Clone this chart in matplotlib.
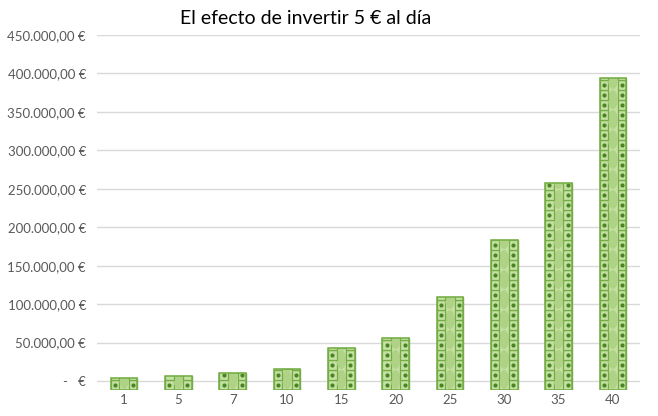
import matplotlib.pyplot as plt
from matplotlib.patches import Rectangle, Ellipse
from matplotlib.ticker import FuncFormatter

# years invested and resulting capital
years = ['1', '5', '7', '10', '15', '20', '25', '30', '35', '40']
capital = [3500, 6100, 10000, 15200, 43300, 56000, 109000, 183000, 258000, 394000]

plt.rcParams['font.family'] = ['Lato', 'DejaVu Sans']

fig = plt.figure(figsize=(6.58, 4.16), dpi=100)
ax = fig.add_axes([0.1474, 0.0637, 0.8252, 0.8522])

y_bottom = -11000
y_top = 450000
ax.set_xlim(-0.5, len(years) - 0.5)
ax.set_ylim(y_bottom, y_top)

light = '#c5e0a3'
edge = '#74ad45'
mid = '#b0d286'
dot = '#4a8424'

bar_w = 0.49
tile_h = 13000

bars = ax.bar(range(len(years)), [v - y_bottom for v in capital], bottom=y_bottom,
              width=bar_w, color=light, edgecolor=edge, linewidth=1.0, zorder=2)

for i, (b, v) in enumerate(zip(bars, capital)):
    left = i - bar_w / 2
    clip = b
    y = y_bottom
    k = 0
    dots_x, dots_y = [], []
    while y < v:
        # side squares of each banknote
        for xs in (left, left + bar_w * 0.68):
            r = Rectangle((xs, y), bar_w * 0.32, tile_h, facecolor=light,
                          edgecolor=edge, linewidth=0.9, zorder=3)
            ax.add_patch(r)
            r.set_clip_path(clip)
            dots_x.append(xs + bar_w * 0.16)
            dots_y.append(y + tile_h / 2)
        if k % 2 == 0:
            e = Ellipse((i, y + tile_h), bar_w * 0.36, tile_h * 1.9,
                        facecolor=mid, edgecolor='none', zorder=3)
            ax.add_patch(e)
            e.set_clip_path(clip)
        y += tile_h
        k += 1
    pts = [(px, py) for px, py in zip(dots_x, dots_y) if py < v]
    if pts:
        sc = ax.scatter([p[0] for p in pts], [p[1] for p in pts], s=9,
                        color=dot, zorder=4, linewidths=0)
        sc.set_clip_path(clip)
    outline = Rectangle((left, y_bottom), bar_w, v - y_bottom, facecolor='none',
                        edgecolor=edge, linewidth=1.1, zorder=5)
    ax.add_patch(outline)


def euro(val, pos):
    if val == 0:
        return '-   €'
    s = f'{val:,.2f}'.replace(',', 'X').replace('.', ',').replace('X', '.')
    return s + ' €'


ax.set_yticks(range(0, 450001, 50000))
ax.yaxis.set_major_formatter(FuncFormatter(euro))
ax.set_xticks(range(len(years)))
ax.set_xticklabels(years)
ax.grid(axis='y', color='#d9d9d9', linewidth=1.0, zorder=0)
ax.set_axisbelow(True)
for s in ax.spines.values():
    s.set_visible(False)
ax.tick_params(length=0, labelsize=9.5, colors='#595959', pad=8)
ax.tick_params(axis='x', pad=3)

fig.text(0.465, 0.955, 'El efecto de invertir 5 € al día', ha='center', va='center',
         fontsize=14, color='#000000')

fig.savefig('out.png', dpi=100)
